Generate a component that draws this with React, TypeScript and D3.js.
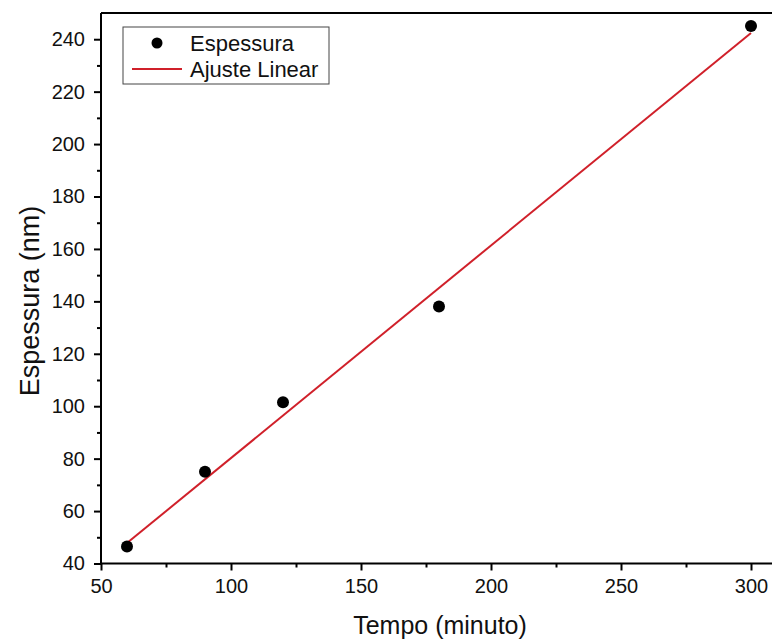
import React, { useRef, useEffect } from "react";
import * as d3 from "d3";

// Dados
const tempo = [60, 90, 120, 180, 300];
const espessura = [46.5, 75, 101.5, 138, 245];
const ajusteX = [60, 300];
const ajusteY = [47.8, 242.4];
const xTicks = [50, 75, 100, 125, 150, 175, 200, 225, 250, 275, 300];
const yTicks = [40, 50, 60, 70, 80, 90, 100, 110, 120, 130, 140, 150, 160, 170, 180, 190, 200, 210, 220, 230, 240];
const legendLabels = ["Espessura", "Ajuste Linear"];

const W = 772;
const H = 644;
const FONT = "Arial, 'Liberation Sans', sans-serif";
const RED = "#d0202a";

const App = () => {
  const svgRef = useRef<SVGSVGElement>(null);

  useEffect(() => {
    const svg = d3.select(svgRef.current);
    svg.selectAll("*").remove();

    const left = 101;
    const top = 13;
    const bottom = 563.5;

    const x = d3.scaleLinear().domain([50, 300]).range([left, 751]);
    const y = d3.scaleLinear().domain([40, 250]).range([bottom, top]);

    // top border
    svg
      .append("line")
      .attr("x1", left)
      .attr("x2", W)
      .attr("y1", top)
      .attr("y2", top)
      .attr("stroke", "#000")
      .attr("stroke-width", 2);

    // x axis
    const gx = svg
      .append("g")
      .attr("transform", `translate(0,${bottom})`)
      .call(
        d3
          .axisBottom(x)
          .tickValues(xTicks)
          .tickSizeOuter(0)
          .tickPadding(9)
          .tickFormat((d) => ((d as number) % 50 === 0 ? String(d) : ""))
      );
    gx.select(".domain").remove();
    gx.append("line")
      .attr("x1", left)
      .attr("x2", W)
      .attr("stroke", "#000")
      .attr("stroke-width", 2);
    gx.selectAll(".tick line")
      .attr("stroke-width", 2)
      .attr("y2", (d) => ((d as number) % 50 === 0 ? 7 : 4));
    gx.selectAll(".tick text")
      .attr("fill", "#111")
      .style("font-family", FONT)
      .style("font-size", "20px");

    // y axis
    const gy = svg
      .append("g")
      .attr("transform", `translate(${left},0)`)
      .call(
        d3
          .axisLeft(y)
          .tickValues(yTicks)
          .tickSizeOuter(0)
          .tickPadding(10)
          .tickFormat((d) => ((d as number) % 20 === 0 ? String(d) : ""))
      );
    gy.select(".domain").remove();
    gy.append("line")
      .attr("y1", top)
      .attr("y2", bottom + 1)
      .attr("stroke", "#000")
      .attr("stroke-width", 2);
    gy.selectAll(".tick line")
      .attr("stroke-width", 2)
      .attr("x2", (d) => ((d as number) % 20 === 0 ? -7 : -4));
    gy.selectAll(".tick text")
      .attr("fill", "#111")
      .style("font-family", FONT)
      .style("font-size", "20px");

    // axis titles
    svg
      .append("text")
      .attr("x", 440)
      .attr("y", 634)
      .attr("text-anchor", "middle")
      .style("font-family", FONT)
      .style("font-size", "25px")
      .attr("fill", "#111")
      .text("Tempo (minuto)");

    svg
      .append("text")
      .attr("transform", `translate(39,${301}) rotate(-90)`)
      .attr("text-anchor", "middle")
      .style("font-family", FONT)
      .style("font-size", "27px")
      .attr("fill", "#111")
      .text("Espessura (nm)");

    // linear fit
    const line = d3
      .line<number>()
      .x((d) => x(d))
      .y((_, i) => y(ajusteY[i]));
    svg
      .append("path")
      .datum(ajusteX)
      .attr("d", line)
      .attr("fill", "none")
      .attr("stroke", RED)
      .attr("stroke-width", 2);

    // points
    svg
      .selectAll("circle.pt")
      .data(tempo)
      .join("circle")
      .attr("class", "pt")
      .attr("cx", (d) => x(d))
      .attr("cy", (_, i) => y(espessura[i]))
      .attr("r", 6)
      .attr("fill", "#000");

    // legend
    const legend = svg.append("g");
    legend
      .append("rect")
      .attr("x", 123)
      .attr("y", 27)
      .attr("width", 206)
      .attr("height", 57)
      .attr("fill", "#fff")
      .attr("stroke", "#444")
      .attr("stroke-width", 1);
    legend
      .append("circle")
      .attr("cx", 157)
      .attr("cy", 43)
      .attr("r", 5.5)
      .attr("fill", "#000");
    legend
      .append("line")
      .attr("x1", 132)
      .attr("x2", 182)
      .attr("y1", 69)
      .attr("y2", 69)
      .attr("stroke", RED)
      .attr("stroke-width", 2);
    legend
      .selectAll("text")
      .data(legendLabels)
      .join("text")
      .attr("x", 190)
      .attr("y", (_, i) => 43 + i * 26)
      .attr("dy", "0.35em")
      .style("font-family", FONT)
      .style("font-size", "22px")
      .attr("fill", "#111")
      .text((d) => d);
  }, []);

  return (
    <svg
      ref={svgRef}
      width={W}
      height={H}
      style={{ position: "absolute", left: 0, top: 0, background: "#fff" }}
    />
  );
};

export default App;
